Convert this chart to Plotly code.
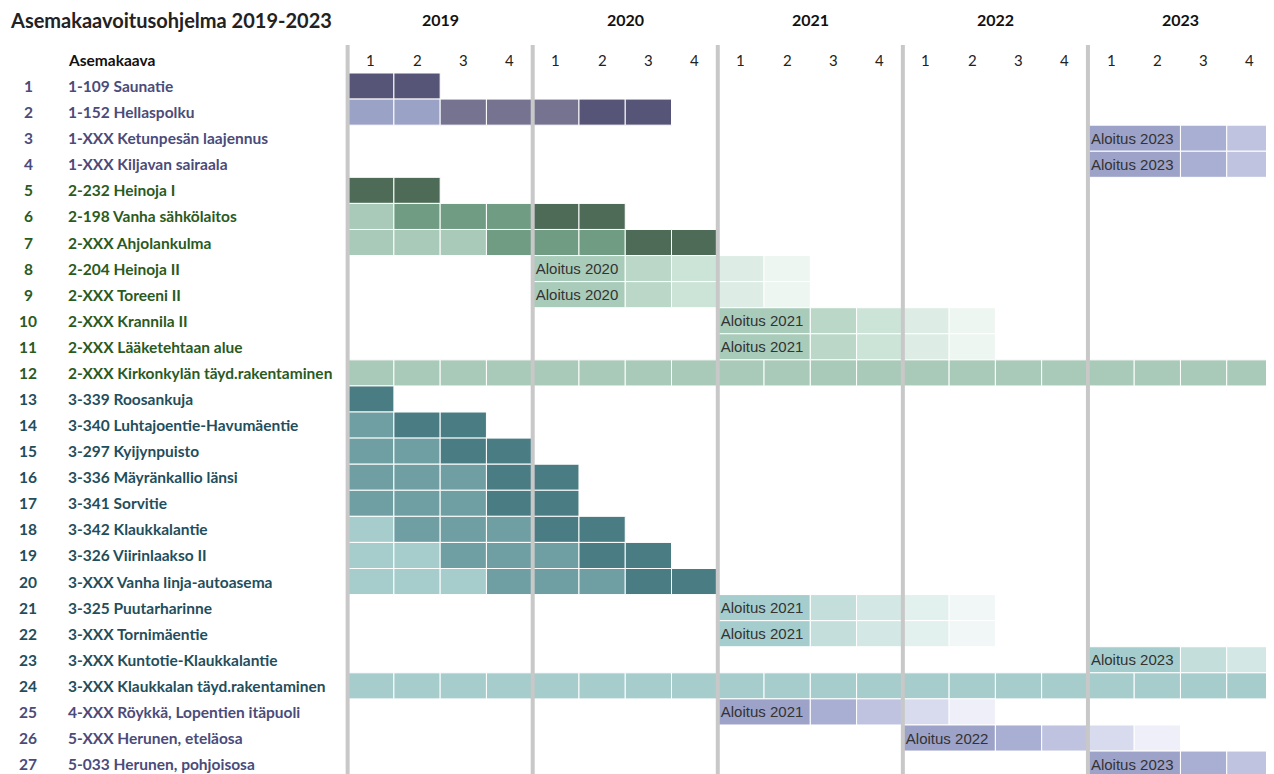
import plotly.graph_objects as go

title = "Asemakaavoitusohjelma 2019-2023"
years = ["2019", "2020", "2021", "2022", "2023"]
quarters = ["1", "2", "3", "4"]

names = [
    "1-109 Saunatie", "1-152 Hellaspolku", "1-XXX Ketunpesän laajennus", "1-XXX Kiljavan sairaala",
    "2-232 Heinoja I", "2-198 Vanha sähkölaitos", "2-XXX Ahjolankulma", "2-204 Heinoja II",
    "2-XXX Toreeni II", "2-XXX Krannila II", "2-XXX Lääketehtaan alue", "2-XXX Kirkonkylän täyd.rakentaminen",
    "3-339 Roosankuja", "3-340 Luhtajoentie-Havumäentie", "3-297 Kyijynpuisto", "3-336 Mäyränkallio länsi",
    "3-341 Sorvitie", "3-342 Klaukkalantie", "3-326 Viirinlaakso II", "3-XXX Vanha linja-autoasema",
    "3-325 Puutarharinne", "3-XXX Tornimäentie", "3-XXX Kuntotie-Klaukkalantie", "3-XXX Klaukkalan täyd.rakentaminen",
    "4-XXX Röykkä, Lopentien itäpuoli", "5-XXX Herunen, eteläosa", "5-033 Herunen, pohjoisosa",
]
groups = ["P", "P", "P", "P",
          "G", "G", "G", "G", "G", "G", "G", "G",
          "T", "T", "T", "T", "T", "T", "T", "T", "T", "T", "T", "T",
          "P", "P", "P"]

# phase per quarter (2019Q1 ... 2023Q4): L=early, M=mid, D=final, A=start (Aloitus), 1-4 fading follow-up
schedule = [
    "DD..................",
    "LLMMMDD.............",
    "................AA12",
    "................AA12",
    "DD..................",
    "LMMMDD..............",
    "LLLMMMDD............",
    "....AA1234..........",
    "....AA1234..........",
    "........AA1234......",
    "........AA1234......",
    "LLLLLLLLLLLLLLLLLLLL",
    "D...................",
    "MDD.................",
    "MMDD................",
    "MMMDD...............",
    "MMMDD...............",
    "LMMMDD..............",
    "LLMMMDD.............",
    "LLLMMMDD............",
    "........AA1234......",
    "........AA1234......",
    "................AA12",
    "LLLLLLLLLLLLLLLLLLLL",
    "........AA1234......",
    "............AA1234..",
    "................AA12",
]

palette = {
    "P": {"D": "#575577", "M": "#767390", "L": "#9AA2C6", "A": "#9DA2C8",
          "1": "#A9AFD3", "2": "#BFC3E0", "3": "#D8DBEE", "4": "#EEEFF8"},
    "G": {"D": "#4E6B58", "M": "#6F9C82", "L": "#A9C9B9", "A": "#A9CBBA",
          "1": "#BAD7C7", "2": "#CCE3D8", "3": "#DDEDE5", "4": "#EEF6F1"},
    "T": {"D": "#4A7C84", "M": "#6F9FA3", "L": "#A6CCCC", "A": "#A6CDCD",
          "1": "#C4DFDB", "2": "#D3E7E4", "3": "#E2F0EE", "4": "#F0F7F6"},
}
label_colors = {"P": "#4B4B7A", "G": "#2A5A1E", "T": "#1F4E5C"}

ys, bases, spans, colors, texts = [], [], [], [], []
for r, (codes, g) in enumerate(zip(schedule, groups), start=1):
    q = 0
    while q < len(codes):
        c = codes[q]
        if c == ".":
            q += 1
            continue
        if c == "A":
            span = 1
            while q + span < len(codes) and codes[q + span] == "A":
                span += 1
            ys.append(r); bases.append(q); spans.append(span)
            colors.append(palette[g]["A"]); texts.append("Aloitus " + years[q // 4])
            q += span
        else:
            ys.append(r); bases.append(q); spans.append(1)
            colors.append(palette[g][c]); texts.append("")
            q += 1

fig = go.Figure()
fig.add_trace(go.Bar(
    y=ys, x=spans, base=bases, orientation="h", width=1,
    marker=dict(color=colors, line=dict(color="white", width=1)),
    text=texts, textposition="inside", insidetextanchor="start",
    textfont=dict(family="Liberation Sans, Arial", size=15, color="#333333"),
    constraintext="none", hoverinfo="skip", showlegend=False,
))

shapes = []
for i in range(len(years)):
    shapes.append(dict(type="line", xref="x", yref="paper", x0=i * 4, x1=i * 4, y0=0, y1=1,
                       line=dict(color="#C8C8C8", width=4), layer="above"))

FONT = "Lato, Calibri, sans-serif"
ann = []
ann.append(dict(text="<b>" + title + "</b>", xref="paper", yref="paper", x=-0.3602, y=1.0343,
                xanchor="left", yanchor="middle", showarrow=False,
                font=dict(family=FONT, size=20, color="#222222")))
for i, yr in enumerate(years):
    ann.append(dict(text="<b>" + yr + "</b>", xref="x", yref="paper", x=i * 4 + 2, y=1.0343,
                    xanchor="center", yanchor="middle", showarrow=False,
                    font=dict(family=FONT, size=16, color="#111111")))
    for j, qn in enumerate(quarters):
        ann.append(dict(text=qn, xref="x", yref="y", x=i * 4 + j + 0.5, y=0,
                        xanchor="center", yanchor="middle", showarrow=False,
                        font=dict(family=FONT, size=15, color="#222222")))
ann.append(dict(text="<b>Asemakaava</b>", xref="paper", yref="y", x=-0.2978, y=0,
                xanchor="left", yanchor="middle", showarrow=False,
                font=dict(family=FONT, size=15.5, color="#111111")))
for r, (nm, g) in enumerate(zip(names, groups), start=1):
    col = label_colors[g]
    ann.append(dict(text="<b>%d</b>" % r, xref="paper", yref="y", x=-0.3387, y=r,
                    xanchor="center", yanchor="middle", showarrow=False,
                    font=dict(family=FONT, size=15.5, color=col)))
    ann.append(dict(text="<b>" + nm + "</b>", xref="paper", yref="y", x=-0.2978, y=r,
                    xanchor="left", yanchor="middle", showarrow=False,
                    font=dict(family=FONT, size=15.5, color=col)))

# the page places the figure 8px from the top-left corner; size it to fill the window exactly
fig.update_layout(
    width=1266, height=766,
    margin=dict(l=335, r=1, t=37, b=0),
    paper_bgcolor="white", plot_bgcolor="white",
    barmode="overlay",
    xaxis=dict(range=[-0.1, 20], showgrid=False, zeroline=False, showticklabels=False,
               ticks="", showline=False, fixedrange=True),
    yaxis=dict(range=[27.38, -0.574], showgrid=False, zeroline=False, showticklabels=False,
               ticks="", showline=False, fixedrange=True),
    shapes=shapes, annotations=ann,
)

fig.write_html("out.html", config={"displayModeBar": False})
